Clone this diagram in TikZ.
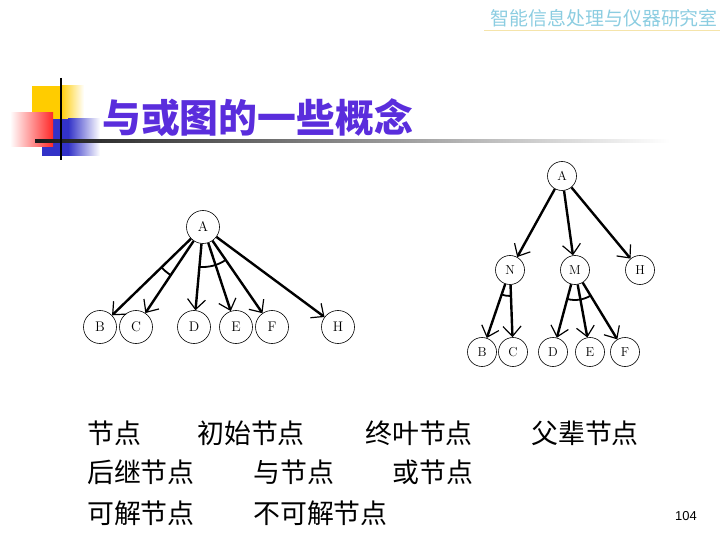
\documentclass[tikz,border=0pt]{standalone}
\usepackage{fontspec}
\newfontfamily\cjk{Noto Sans CJK SC}
\newfontfamily\numfont{Liberation Sans}
\usepackage{tikz}
\usetikzlibrary{positioning,arrows.meta}
\definecolor{titleblue}{RGB}{90,45,220}
\definecolor{labcyan}{RGB}{140,205,225}
\definecolor{labline}{RGB}{245,228,170}
\definecolor{decoyellow}{RGB}{255,204,0}
\definecolor{decored}{RGB}{255,40,40}
\definecolor{decoblue}{RGB}{50,50,200}

\begin{document}
\begin{tikzpicture}[x=1bp,y=-1bp,
	vertex/.style={circle,draw=black,line width=0.6bp,minimum size=33bp,inner sep=0pt,font=\fontsize{14}{14}\selectfont},
	small/.style={vertex,minimum size=29bp,font=\fontsize{13}{13}\selectfont},
	edge/.style={line width=2.4bp,-{Straight Barb[length=10bp,width=18bp,line width=1.2bp]}},
	andarc/.style={line width=1.8bp},
	word/.style={anchor=west,inner sep=0pt,font=\cjk\fontsize{27}{27}\selectfont}]
		\useasboundingbox (0,0) rectangle (720,540);

		%header
		\node[anchor=east,inner sep=0pt,text=labcyan,font=\cjk\fontsize{19}{19}\selectfont] (lab) at (718,18) {智能信息处理与仪器研究室};
		\draw[labline,line width=1bp] (484,31) -- (720,31);

		%title decoration
		\fill[decoyellow] (32,86) rectangle (60,120);
		\shade[left color=decoyellow,right color=white] (60,86) rectangle (84,120);
		\fill[decoblue] (42,119) rectangle (68,156);
		\shade[left color=decoblue,right color=white] (68,119) rectangle (100,156);
		\shade[left color=white,right color=decored] (10,113) rectangle (53,147);
		\shade[left color=black!90,middle color=black!45,right color=white] (35,140) rectangle (670,143);
		\draw[line width=2.5bp] (61,78) -- (61,160);
		\node[anchor=west,inner sep=0pt,text=titleblue,font=\cjk\bfseries\fontsize{39}{39}\selectfont] (title) at (102,118) {与或图的一些概念};

		%left nodes
		\node[vertex] (n1) at (203,227) {A};
		\node[vertex] (n2) at (100,327) {B};
		\node[vertex] (n3) at (136,327) {C};
		\node[vertex] (n4) at (194,327) {D};
		\node[vertex] (n5) at (236,327) {E};
		\node[vertex] (n6) at (272,327) {F};
		\node[vertex] (n7) at (338,327) {H};

		%left edges
		\draw[edge] (n1) -- (n2);
		\draw[edge] (n1) -- (n3);
		\draw[edge] (n1) -- (n4);
		\draw[edge] (n1) -- (n5);
		\draw[edge] (n1) -- (n6);
		\draw[edge] (n1) -- (n7);
		\draw[andarc] (n1) ++(123.8:58) arc[start angle=123.8,end angle=135.8,radius=58];
		\draw[andarc] (n1) ++(55.4:40) arc[start angle=55.4,end angle=95.1,radius=40];

		%right nodes
		\node[small] (n8) at (562,176) {A};
		\node[small] (n9) at (510,270) {N};
		\node[small] (n10) at (575,270) {M};
		\node[small] (n11) at (640,270) {H};
		\node[small] (n12) at (482,352) {B};
		\node[small] (n13) at (513,352) {C};
		\node[small] (n14) at (553,352) {D};
		\node[small] (n15) at (590,352) {E};
		\node[small] (n16) at (625,352) {F};

		%right edges
		\draw[edge] (n8) -- (n9);
		\draw[edge] (n8) -- (n10);
		\draw[edge] (n8) -- (n11);
		\draw[edge] (n9) -- (n12);
		\draw[edge] (n9) -- (n13);
		\draw[edge] (n10) -- (n14);
		\draw[edge] (n10) -- (n15);
		\draw[edge] (n10) -- (n16);
		\draw[andarc] (n9) ++(87.9:26) arc[start angle=87.9,end angle=108.9,radius=26];
		\draw[andarc] (n10) ++(58.6:30) arc[start angle=58.6,end angle=105.0,radius=30];

		%terms
		\node[word] (t1) at (87,433) {节点};
		\node[word] (t2) at (197,433) {初始节点};
		\node[word] (t3) at (365,433) {终叶节点};
		\node[word] (t4) at (531,433) {父辈节点};
		\node[word] (t5) at (87,472) {后继节点};
		\node[word] (t6) at (253,472) {与节点};
		\node[word] (t7) at (392,472) {或节点};
		\node[word] (t8) at (87,513) {可解节点};
		\node[word] (t9) at (253,513) {不可解节点};

		%page number
		\node[inner sep=0pt,font=\numfont\fontsize{13}{13}\selectfont] (pg) at (686,516) {104};
	\end{tikzpicture}
\end{document}
